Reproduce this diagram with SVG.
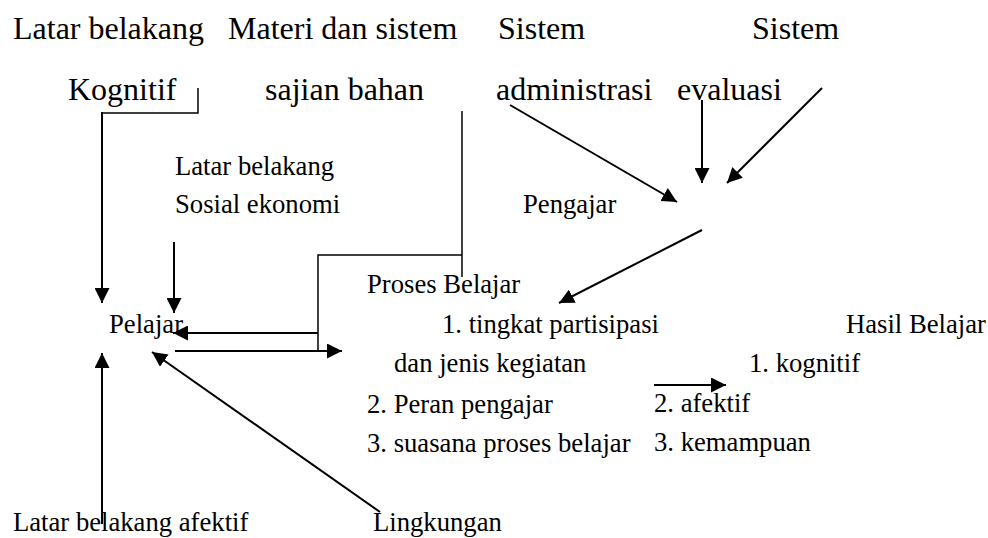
<svg xmlns="http://www.w3.org/2000/svg" width="988" height="538" viewBox="0 0 988 538">
<style>
text{font-family:"Liberation Serif","Times New Roman",serif;fill:#000}
.big{font-size:32px}
.sm{font-size:26.67px}
.ln{stroke:#000;stroke-width:1.5;fill:none}
.ar{stroke:#000;stroke-width:2;fill:none;marker-end:url(#ah)}
</style>
<defs>
<marker id="ah" markerWidth="16" markerHeight="15" refX="15" refY="7.5" orient="auto" markerUnits="userSpaceOnUse">
<path d="M0,0 L15,7.5 L0,15 Z" fill="#000"/>
</marker>
</defs>
<rect width="988" height="538" fill="#fff"/>
<g id="lb-kognitif"><text class="big" x="13" y="39">Latar belakang</text><text class="big" x="68" y="100">Kognitif</text></g>
<g id="materi"><text class="big" x="228" y="39">Materi dan sistem</text><text class="big" x="265" y="100">sajian bahan</text></g>
<g id="administrasi"><text class="big" x="498" y="39">Sistem</text><text class="big" x="496" y="100">administrasi</text></g>
<g id="evaluasi"><text class="big" x="752" y="39">Sistem</text><text class="big" x="677" y="100">evaluasi</text></g>
<g id="sosial"><text class="sm" x="175" y="175">Latar belakang</text><text class="sm" x="175" y="213">Sosial ekonomi</text></g>
<g id="pengajar"><text class="sm" x="523" y="213">Pengajar</text></g>
<g id="pelajar"><text class="sm" x="109" y="333">Pelajar</text></g>
<g id="proses">
<text class="sm" x="367" y="293">Proses Belajar</text>
<text class="sm" x="442" y="333">1. tingkat partisipasi</text>
<text class="sm" x="394" y="372">dan jenis kegiatan</text>
<text class="sm" x="367" y="413">2. Peran pengajar</text>
<text class="sm" x="367" y="452">3. suasana proses belajar</text>
</g>
<g id="hasil">
<text class="sm" x="846" y="333">Hasil Belajar</text>
<text class="sm" x="749" y="372">1. kognitif</text>
<text class="sm" x="654" y="412">2. afektif</text>
<text class="sm" x="654" y="451">3. kemampuan</text>
</g>
<g id="afektif"><text class="sm" x="13" y="531">Latar belakang afektif</text></g>
<g id="lingkungan"><text class="sm" x="373" y="531">Lingkungan</text></g>
<g id="connectors">
<polyline class="ln" points="198,88 198,113 102,113"/>
<line class="ar" x1="102" y1="112" x2="102" y2="303"/>
<polyline class="ln" points="462,111 462,277"/>
<polyline class="ln" points="462,255 318,255 318,350"/>
<line class="ar" x1="318" y1="333" x2="173" y2="333"/>
<line class="ar" x1="175" y1="351" x2="342" y2="351"/>
<line class="ar" x1="174" y1="242" x2="174" y2="313"/>
<line class="ar" x1="102" y1="524" x2="102" y2="353"/>
<line class="ar" x1="380" y1="512" x2="152" y2="352"/>
<line class="ar" x1="510" y1="105" x2="677" y2="202"/>
<line class="ar" x1="702" y1="100" x2="702" y2="183"/>
<line class="ar" x1="822" y1="88" x2="727" y2="183"/>
<line class="ar" x1="702" y1="230" x2="559" y2="303"/>
<line class="ar" x1="654" y1="385" x2="726" y2="385"/>
</g>
</svg>
